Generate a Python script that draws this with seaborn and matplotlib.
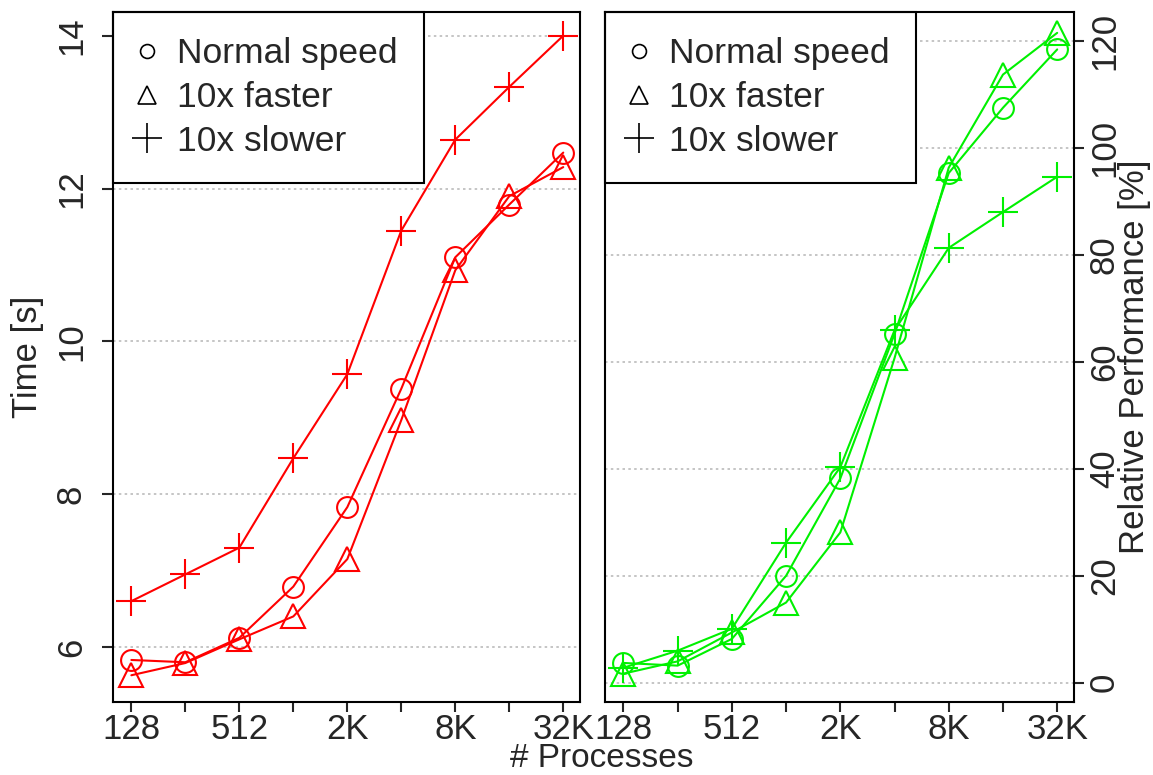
import matplotlib
import pandas as pd
import seaborn as sns
from matplotlib import pyplot as plt
from matplotlib.lines import Line2D

matplotlib.use("Agg")

# data
procs = [128, 256, 512, 1024, 2048, 4096, 8192, 16384, 32768]
tick_procs = [128, 256, 512, 1024, 2048, 4096, 8192, 16384, 32768]
tick_names = ["128", "", "512", "", "2K", "", "8K", "", "32K"]

series_names = ["Normal speed", "10x faster", "10x slower"]

time_normal = [5.83, 5.80, 6.12, 6.79, 7.83, 9.38, 11.10, 11.79, 12.47]
time_faster = [5.63, 5.79, 6.10, 6.40, 7.15, 8.97, 10.93, 11.90, 12.28]
time_slower = [6.60, 6.95, 7.30, 8.47, 9.57, 11.45, 12.64, 13.33, 14.00]

perf_normal = [3.7, 3.2, 8.2, 20.0, 38.2, 65.2, 95.3, 107.5, 118.4]
perf_faster = [1.7, 4.0, 9.4, 15.0, 28.1, 60.7, 96.3, 113.7, 121.5]
perf_slower = [2.8, 6.0, 10.1, 26.2, 40.3, 65.9, 81.3, 88.0, 94.6]

time_ticks = [6, 8, 10, 12, 14]
perf_ticks = [0, 20, 40, 60, 80, 100, 120]

# global settings
sns.set_style("ticks")
plt.rcParams["font.family"] = ["Liberation Sans", "DejaVu Sans"]
plt.rcParams.update({"font.size": 25, "axes.linewidth": 1.5})

markers = ["o", "^", "+"]
sizes = [15, 17, 22]
line_kw = dict(linewidth=1.5, markeredgewidth=1.5, markerfacecolor="none")

fig = plt.figure(figsize=(11.53, 7.75), dpi=100)
ax1 = fig.add_axes([113 / 1153, 1 - 702 / 775, 467 / 1153, 690 / 775])
ax2 = fig.add_axes([605 / 1153, 1 - 702 / 775, 469 / 1153, 690 / 775])

df_time = pd.DataFrame({"procs": procs, series_names[0]: time_normal,
                        series_names[1]: time_faster, series_names[2]: time_slower})
df_perf = pd.DataFrame({"procs": procs, series_names[0]: perf_normal,
                        series_names[1]: perf_faster, series_names[2]: perf_slower})

for ax, df, col in [(ax1, df_time, "#ff0000"), (ax2, df_perf, "#00f000")]:
    for name, m, s in zip(series_names, markers, sizes):
        sns.lineplot(ax=ax, data=df, x="procs", y=name, color=col, marker=m,
                     markersize=s, markeredgecolor=col, **line_kw)

    ax.set_xscale("log", base=2)
    ax.set_xlim(2 ** 6.66, 2 ** 15.31)
    ax.set_xticks(tick_procs)
    ax.set_xticklabels(tick_names)
    ax.xaxis.set_minor_locator(matplotlib.ticker.NullLocator())
    ax.tick_params(axis="x", length=7, width=1.5, pad=1)
    ax.set_xlabel("")

    handles = [Line2D([], [], color="black", marker=m, ls="none", markerfacecolor="none",
                      markersize=ms, markeredgewidth=1.2)
               for m, ms in zip(markers, [10, 13, 22])]
    leg = ax.legend(handles, series_names, loc="upper left", borderaxespad=0,
                    fancybox=False, framealpha=1, edgecolor="black", fontsize=25.5,
                    handlelength=0.5, handletextpad=0.6, labelspacing=0.3,
                    borderpad=0.72)
    leg.get_frame().set_linewidth(1.5)
    leg.set_zorder(1)
    for sp in ax.spines.values():
        sp.set_visible(True)
        sp.set_color("black")

# left panel: time
ax1.set_ylim(5.28, 14.31)
ax1.set_yticks(time_ticks)
ax1.tick_params(axis="y", length=8, width=1.5, labelrotation=90, pad=10)
ax1.set_ylabel("Time [s]")
ax1.yaxis.set_label_coords(-0.148, 0.5)

# right panel: relative performance, axis on the right
ax2.set_ylim(-3.6, 125.4)
ax2.set_yticks(perf_ticks)
ax2.yaxis.tick_right()
ax2.yaxis.set_label_position("right")
ax2.tick_params(axis="y", length=7, width=1.5, labelrotation=90, pad=3)
ax2.set_ylabel("Relative Performance [%]")
ax2.yaxis.set_label_coords(1.094, 0.5)

for ax in (ax1, ax2):
    for t in ax.get_yticklabels():
        t.set_verticalalignment("center")
    for v in ax.get_yticks():
        ax.axhline(v, color="#bbbbbb", linestyle=(0, (1.5, 2)), linewidth=1.2, zorder=0)

fig.text(602 / 1153, 1 / 775, "# Processes", ha="center", va="bottom", fontsize=24)

fig.savefig("out.png", dpi=100)
